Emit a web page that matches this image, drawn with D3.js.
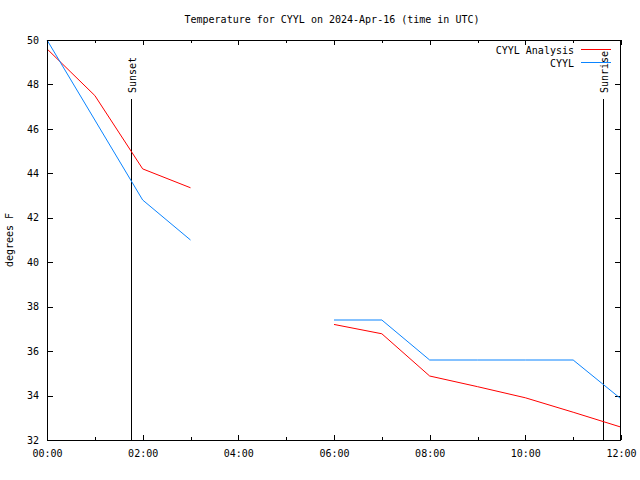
<!DOCTYPE html>
<html><head><meta charset="utf-8">
<script src="https://cdn.jsdelivr.net/npm/d3@7"></script>
<style>body{margin:0;background:#fff}svg{display:block}text{font-family:"DejaVu Sans Mono",monospace;font-size:10px;fill:#000}</style>
</head><body><svg id="c" width="640" height="480"></svg>
<script>
const title = "Temperature for CYYL on 2024-Apr-16 (time in UTC)";
const yLabel = "degrees F";
// hours (UTC) and values; null = gap
const analysisHours = [0, 0.5, 1, 2, 3, 6, 7, 8, 9, 10, 11, 12];
const analysisTemps = [49.6, 48.55, 47.5, 44.2, 43.35, 37.2, 36.78, 34.88, 34.4, 33.9, 33.25, 32.58];
const obsHours = [0, 1, 2, 3, 6, 7, 8, 9, 10, 11, 12];
const obsTemps = [50.0, 46.4, 42.8, 41.0, 37.4, 37.4, 35.6, 35.6, 35.6, 35.6, 33.85];
const xTickHours = [0, 2, 4, 6, 8, 10, 12];
const xTickLabels = ["00:00", "02:00", "04:00", "06:00", "08:00", "10:00", "12:00"];
const xMinorHours = [1, 3, 5, 7, 9, 11];
const yTicks = [32, 34, 36, 38, 40, 42, 44, 46, 48, 50];
const events = [{name: "Sunset", hour: 1.75}, {name: "Sunrise", hour: 11.62}];
const legendNames = ["CYYL Analysis", "CYYL"];
const colors = ["#ff0000", "#0a84ff"];

const L = 47, R = 621, T = 40, B = 440;
const svg = d3.select("#c");
const x = d3.scaleLinear().domain([0, 12]).range([L, R]);
const y = d3.scaleLinear().domain([32, 50]).range([B, T]);

svg.append("text").attr("x", 332).attr("y", 23).attr("text-anchor", "middle").text(title);
svg.append("text").attr("transform", "translate(13,240) rotate(-90)").attr("text-anchor", "middle").text(yLabel);

const bottom = d3.axisBottom(x).tickValues(xTickHours).tickFormat((d, i) => xTickLabels[i]).tickSize(0).tickPadding(10);
const gb = svg.append("g").attr("transform", `translate(0,${B})`).call(bottom);
gb.select(".domain").remove();
gb.selectAll("text").style("font-family", "DejaVu Sans Mono").style("font-size", "10px");
const left = d3.axisLeft(y).tickValues(yTicks).tickSize(0).tickPadding(8);
const gl = svg.append("g").attr("transform", `translate(${L},0)`).call(left);
gl.select(".domain").remove();
gl.selectAll("text").style("font-family", "DejaVu Sans Mono").style("font-size", "10px");

// ticks inward
const tk = svg.append("g").attr("stroke", "#000").attr("stroke-width", 1);
xTickHours.forEach(h => {
  const px = Math.round(x(h)) + 0.5;
  tk.append("line").attr("x1", px).attr("x2", px).attr("y1", B).attr("y2", B - 5);
  tk.append("line").attr("x1", px).attr("x2", px).attr("y1", T).attr("y2", T + 5);
});
xMinorHours.forEach(h => {
  const px = Math.round(x(h)) + 0.5;
  tk.append("line").attr("x1", px).attr("x2", px).attr("y1", B).attr("y2", B - 3);
  tk.append("line").attr("x1", px).attr("x2", px).attr("y1", T).attr("y2", T + 3);
});
yTicks.forEach(v => {
  const py = Math.round(y(v)) + 0.5;
  tk.append("line").attr("x1", L).attr("x2", L + 6).attr("y1", py).attr("y2", py);
  tk.append("line").attr("x1", R).attr("x2", R - 6).attr("y1", py).attr("y2", py);
});

// events
events.forEach(e => {
  const px = Math.round(x(e.hour)) + 0.5;
  svg.append("line").attr("x1", px).attr("x2", px).attr("y1", 99).attr("y2", B).attr("stroke", "#000");
  svg.append("text").attr("transform", `translate(${px + 4},93) rotate(-90)`).attr("text-anchor", "start").text(e.name);
});

function series(hours, temps, color) {
  const data = hours.map((h, i) => ({h, t: temps[i]}));
  // split into segments at gaps > 1h
  const segs = []; let cur = [];
  data.forEach((d, i) => {
    if (i > 0 && d.h - data[i - 1].h > 1.01) { segs.push(cur); cur = []; }
    cur.push(d);
  });
  segs.push(cur);
  const line = d3.line().x(d => x(d.h)).y(d => y(d.t));
  segs.forEach(s => svg.append("path").attr("d", line(s)).attr("fill", "none").attr("stroke", color).attr("stroke-width", 1));
}
series(analysisHours, analysisTemps, colors[0]);
series(obsHours, obsTemps, colors[1]);

// legend
legendNames.forEach((n, i) => {
  const ly = 50 + i * 13;
  svg.append("text").attr("x", 574).attr("y", ly + 3.5).attr("text-anchor", "end").text(n);
  svg.append("line").attr("x1", 581).attr("x2", 611).attr("y1", ly - 0.5).attr("y2", ly - 0.5).attr("stroke", colors[i]);
});

// frame
svg.append("rect").attr("x", L + 0.5).attr("y", T + 0.5).attr("width", R - L - 1).attr("height", B - T).attr("fill", "none").attr("stroke", "#000");
</script></body></html>
